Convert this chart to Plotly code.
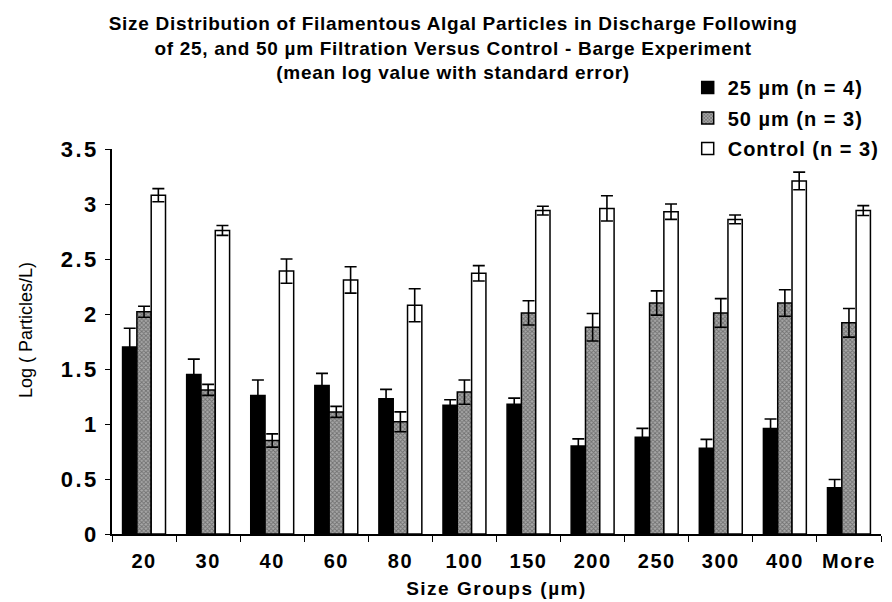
import plotly.graph_objects as go

categories = ["20", "30", "40", "60", "80", "100", "150", "200", "250", "300", "400", "More"]
mean_25 = [1.70, 1.45, 1.26, 1.35, 1.23, 1.17, 1.18, 0.80, 0.88, 0.78, 0.96, 0.42]
se_25 = [0.17, 0.14, 0.14, 0.11, 0.085, 0.05, 0.055, 0.065, 0.08, 0.08, 0.085, 0.075]
mean_50 = [2.02, 1.31, 0.85, 1.11, 1.02, 1.29, 2.01, 1.88, 2.10, 2.01, 2.10, 1.92]
se_50 = [0.05, 0.05, 0.06, 0.05, 0.09, 0.11, 0.11, 0.125, 0.11, 0.13, 0.12, 0.13]
mean_ctrl = [3.08, 2.76, 2.39, 2.31, 2.08, 2.37, 2.94, 2.96, 2.93, 2.86, 3.21, 2.94]
se_ctrl = [0.06, 0.045, 0.11, 0.12, 0.15, 0.07, 0.04, 0.115, 0.07, 0.04, 0.08, 0.045]
y_ticks = [0, 0.5, 1, 1.5, 2, 2.5, 3, 3.5]
y_tick_labels = ["0", "0.5", "1", "1.5", "2", "2.5", "3", "3.5"]

FONT = "Liberation Sans, Arial, sans-serif"

def sp(text, px):
    return f"<span style='letter-spacing:{px}px'>{text}</span>"

def err(vals):
    return dict(type="data", array=vals, visible=True, color="black", thickness=1.6, width=6)

fig = go.Figure()
fig.add_trace(go.Bar(
    x=categories, y=mean_25, name=sp("25 µm (n = 4)", 1.0), legendgroup="a",
    marker=dict(color="black", line=dict(color="black", width=1.5)),
    error_y=err(se_25)))
fig.add_trace(go.Bar(
    x=categories, y=mean_50, name=sp("50 µm (n = 3)", 1.0), legendgroup="b",
    marker=dict(color="#8a8a8a", line=dict(color="black", width=1.5),
                pattern=dict(shape="x", size=3, solidity=0.5, fgcolor="#383838", bgcolor="#a8a8a8")),
    error_y=err(se_50)))
fig.add_trace(go.Bar(
    x=categories, y=mean_ctrl, name=sp("Control (n = 3)", 1.0), legendgroup="c",
    marker=dict(color="white", line=dict(color="black", width=1.5)),
    error_y=err(se_ctrl)))

fig.update_layout(
    width=892, height=602,
    paper_bgcolor="white", plot_bgcolor="white",
    margin=dict(l=104, r=19, t=141, b=76, autoexpand=False),
    barmode="group", bargap=0.33, bargroupgap=0,
    font=dict(family=FONT, color="black", size=18),
    title=dict(
        text=sp("Size Distribution of Filamentous Algal Particles in Discharge Following", 0.7) + "<br>" +
             sp("of 25, and 50 µm Filtration Versus Control - Barge Experiment", 0.7) + "<br>" +
             sp("(mean log value with standard error)", 0.7),
        x=0.499, xanchor="center", y=1 - 22 / 602, yanchor="top",
        font=dict(family=FONT, size=19, color="black", weight="bold")),
    legend=dict(
        xref="container", yref="container", x=0.762, y=1 - 60 / 602,
        xanchor="left", yanchor="top",
        font=dict(family=FONT, size=20, color="black", weight="bold"),
        tracegroupgap=1.5, bgcolor="rgba(0,0,0,0)", itemwidth=30),
    showlegend=True,
    annotations=[dict(
        text="Log ( Particles/L)", textangle=-90,
        xref="paper", yref="paper", x=(18 - 104) / 769, y=(526 - 322) / 385,
        xanchor="center", yanchor="middle", showarrow=False,
        font=dict(family=FONT, size=18, color="black"))],
)
fig.update_xaxes(
    showline=True, linecolor="black", linewidth=1.5,
    ticks="outside", tickson="boundaries", ticklen=6, tickcolor="black", tickwidth=1.2,
    tickmode="array", tickvals=categories, ticktext=[sp(c, 1.5) for c in categories],
    tickangle=0,
    tickfont=dict(family=FONT, size=20, color="black", weight="bold"),
    ticklabelstandoff=8,
    title=dict(text=sp("Size Groups (µm)", 1.5),
               font=dict(family=FONT, size=19, color="black", weight="bold"), standoff=11),
    showgrid=False)
fig.update_yaxes(
    range=[0, 3.5], tickmode="array", tickvals=y_ticks, ticktext=[sp(t, 2.5) for t in y_tick_labels],
    showline=True, linecolor="black", linewidth=1.5,
    ticks="outside", ticklen=5, tickcolor="black", tickwidth=1.2,
    tickfont=dict(family=FONT, size=22, color="black", weight="bold"),
    ticklabelstandoff=2,
    showgrid=False, zeroline=False)

fig.write_html("out.html")
